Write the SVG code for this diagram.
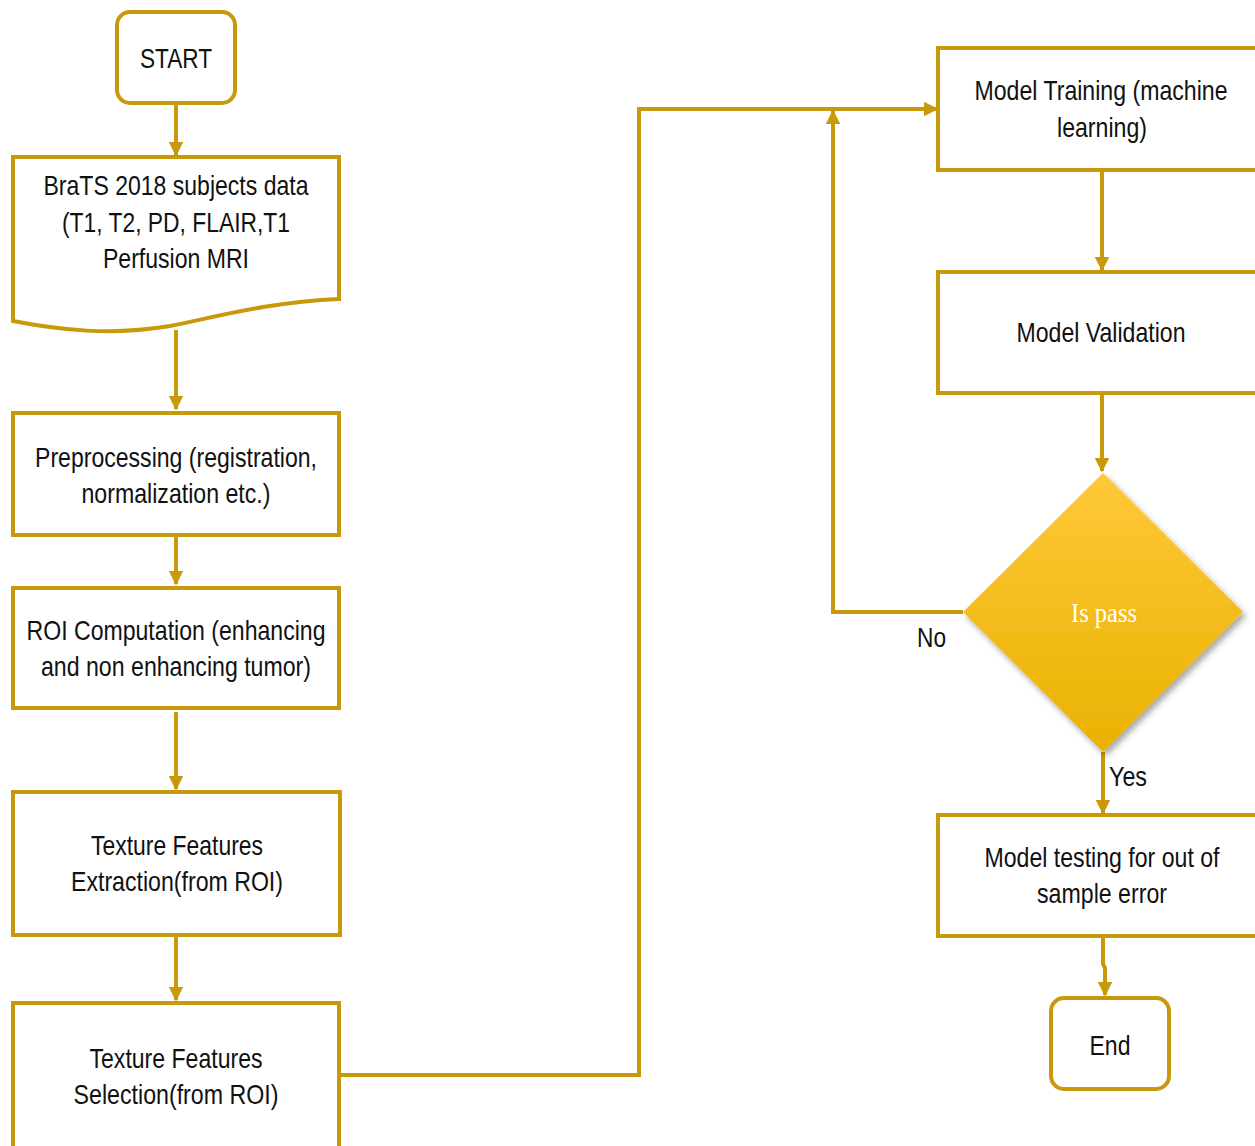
<svg xmlns="http://www.w3.org/2000/svg" width="1255" height="1146" viewBox="0 0 1255 1146">
<style>
.box{fill:#fff;stroke:#C8990A;stroke-width:4}
.ln{fill:none;stroke:#C8990A;stroke-width:4}
.t{font-family:"Liberation Sans Narrow","Liberation Sans",Arial,sans-serif;font-size:28px;fill:#111;text-anchor:middle}
.lbl{font-family:"Liberation Sans Narrow","Liberation Sans",Arial,sans-serif;font-size:28px;fill:#111}
.d{font-family:"Liberation Serif","DejaVu Serif",serif;font-size:27px;fill:#fff;text-anchor:middle}
</style>
<defs>
<marker id="ah" viewBox="0 0 10 10" refX="9" refY="5" markerWidth="3.6" markerHeight="3.6" orient="auto" markerUnits="strokeWidth">
<path d="M0,0 L10,5 L0,10 z" fill="#C8990A"/>
</marker>
<linearGradient id="gd" x1="0" y1="0" x2="0" y2="1">
<stop offset="0" stop-color="#FFC83A"/>
<stop offset="1" stop-color="#E8B200"/>
</linearGradient>
<filter id="sh" x="-20%" y="-20%" width="140%" height="140%">
<feDropShadow dx="3" dy="4" stdDeviation="3" flood-color="#000" flood-opacity="0.35"/>
</filter>
</defs>

<g id="connectors">
<path class="ln" d="M176,103 V155" marker-end="url(#ah)"/>
<path class="ln" d="M176,330 V409" marker-end="url(#ah)"/>
<path class="ln" d="M176,535 V584" marker-end="url(#ah)"/>
<path class="ln" d="M176,712 V789" marker-end="url(#ah)"/>
<path class="ln" d="M176,937 V1000" marker-end="url(#ah)"/>
<path class="ln" d="M339,1075 H639 V109 H937" marker-end="url(#ah)"/>
<path class="ln" d="M1102,170 V270" marker-end="url(#ah)"/>
<path class="ln" d="M1102,393 V471" marker-end="url(#ah)"/>
<path class="ln" d="M963,612 H833 V111" marker-end="url(#ah)"/>
<path class="ln" d="M1103,752 V813" marker-end="url(#ah)"/>
<path class="ln" d="M1103,936 V964 L1105,968 V995" marker-end="url(#ah)"/>
</g>

<g id="start">
<rect class="box" x="117" y="12" width="118" height="91" rx="13"/>
<text class="t" x="176" y="68" textLength="72" lengthAdjust="spacingAndGlyphs">START</text>
</g>

<g id="brats">
<path class="box" d="M13,157 H339 V299 C270,302 220,316 170,326 C110,336 60,330 13,321 Z"/>
<text class="t" x="176" y="195" textLength="265" lengthAdjust="spacingAndGlyphs">BraTS 2018 subjects data</text>
<text class="t" x="176" y="232" textLength="228" lengthAdjust="spacingAndGlyphs">(T1, T2, PD, FLAIR,T1</text>
<text class="t" x="176" y="268" textLength="146" lengthAdjust="spacingAndGlyphs">Perfusion MRI</text>
</g>

<g id="preprocessing">
<rect class="box" x="13" y="413" width="326" height="122"/>
<text class="t" x="176" y="467" textLength="282" lengthAdjust="spacingAndGlyphs">Preprocessing (registration,</text>
<text class="t" x="176" y="503" textLength="189" lengthAdjust="spacingAndGlyphs">normalization etc.)</text>
</g>

<g id="roi">
<rect class="box" x="13" y="588" width="326" height="120"/>
<text class="t" x="176" y="640" textLength="299" lengthAdjust="spacingAndGlyphs">ROI Computation (enhancing</text>
<text class="t" x="176" y="676" textLength="270" lengthAdjust="spacingAndGlyphs">and non enhancing tumor)</text>
</g>

<g id="extraction">
<rect class="box" x="13" y="792" width="327" height="143"/>
<text class="t" x="177" y="855" textLength="172" lengthAdjust="spacingAndGlyphs">Texture Features</text>
<text class="t" x="177" y="891" textLength="212" lengthAdjust="spacingAndGlyphs">Extraction(from ROI)</text>
</g>

<g id="selection">
<rect class="box" x="13" y="1003" width="326" height="150"/>
<text class="t" x="176" y="1068" textLength="173" lengthAdjust="spacingAndGlyphs">Texture Features</text>
<text class="t" x="176" y="1104" textLength="205" lengthAdjust="spacingAndGlyphs">Selection(from ROI)</text>
</g>

<g id="training">
<rect class="box" x="938" y="48" width="330" height="122"/>
<text class="t" x="1101" y="100" textLength="253" lengthAdjust="spacingAndGlyphs">Model Training (machine</text>
<text class="t" x="1102" y="137" textLength="90" lengthAdjust="spacingAndGlyphs">learning)</text>
</g>

<g id="validation">
<rect class="box" x="938" y="272" width="330" height="121"/>
<text class="t" x="1101" y="342" textLength="169" lengthAdjust="spacingAndGlyphs">Model Validation</text>
</g>

<g id="decision">
<path d="M1103,473 L1243,612 L1103,752 L963,612 Z" fill="url(#gd)" filter="url(#sh)"/>
<text class="d" x="1104" y="622" textLength="66" lengthAdjust="spacingAndGlyphs">Is pass</text>
</g>

<g id="labels">
<text class="lbl" x="917" y="647" textLength="29" lengthAdjust="spacingAndGlyphs">No</text>
<text class="lbl" x="1109" y="786" textLength="38" lengthAdjust="spacingAndGlyphs">Yes</text>
</g>

<g id="testing">
<rect class="box" x="938" y="815" width="330" height="121"/>
<text class="t" x="1102" y="867" textLength="235" lengthAdjust="spacingAndGlyphs">Model testing for out of</text>
<text class="t" x="1102" y="903" textLength="130" lengthAdjust="spacingAndGlyphs">sample error</text>
</g>

<g id="end">
<rect class="box" x="1051" y="998" width="118" height="91" rx="13"/>
<text class="t" x="1110" y="1055" textLength="41" lengthAdjust="spacingAndGlyphs">End</text>
</g>
</svg>
